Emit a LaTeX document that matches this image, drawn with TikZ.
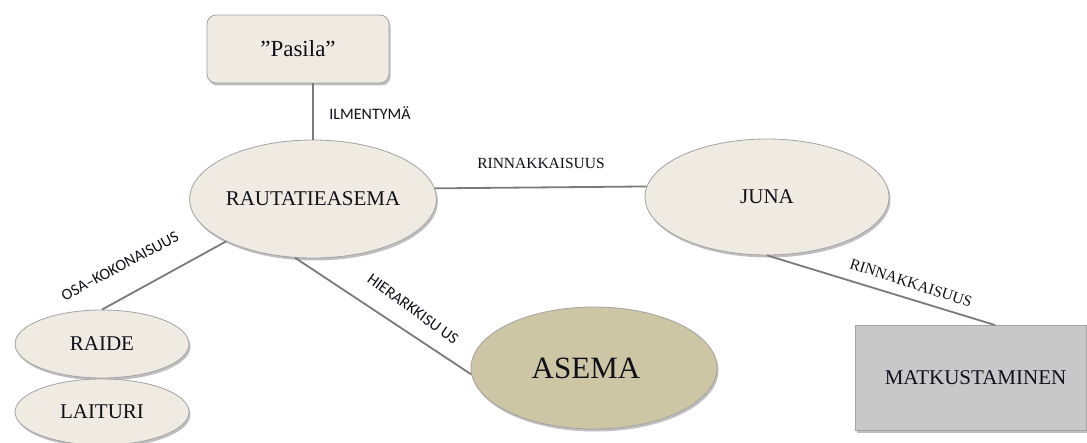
\documentclass[tikz,border=0pt]{standalone}
\usepackage{fontspec}
\setmainfont{Liberation Serif}
\newfontfamily\lblfont{Carlito}
\usetikzlibrary{shapes.geometric,shadows}
\definecolor{cream}{HTML}{EFEBE3}
\definecolor{khaki}{HTML}{CDC6A5}
\definecolor{greybox}{HTML}{C8C8C8}
\definecolor{edgegray}{HTML}{7A7A7A}
\definecolor{bordergray}{HTML}{A3A3A3}
\definecolor{inkc}{HTML}{101018}
\tikzset{
  shade/.style={drop shadow={shadow xshift=1.5pt,shadow yshift=-2.5pt,opacity=0.25,fill=black}},
  oval/.style={ellipse,draw=bordergray,line width=0.8pt,fill=cream,inner sep=0pt,text=inkc,font=\fontsize{21}{25}\selectfont,shade},
  boxnode/.style={rectangle,draw=bordergray,line width=0.8pt,inner sep=0pt,text=inkc,font=\fontsize{21}{25}\selectfont,shade},
  link/.style={draw=edgegray,line width=1.8pt},
  slabel/.style={inner sep=0pt,text=inkc,font=\lblfont\fontsize{16}{19}\selectfont},
  rlabel/.style={inner sep=0pt,text=inkc,font=\fontsize{15.5}{18}\selectfont}
}
\begin{document}
\begin{tikzpicture}[x=1pt,y=-1pt]
\useasboundingbox (0,0) rectangle (1087,443);
\fill[white] (0,0) rectangle (1087,443);
% nodes
\node[boxnode,fill=cream,rounded corners=9pt,minimum width=182pt,minimum height=68pt,font=\fontsize{23}{27}\selectfont] (pasila) at (298,49) {”Pasila”};
\node[oval,minimum width=246pt,minimum height=118pt] (rauta) at (313,199) {RAUTATIEASEMA};
\node[oval,minimum width=244pt,minimum height=116pt] (juna) at (767,197) {JUNA};
\node[oval,minimum width=174pt,minimum height=68pt] (raide) at (102,344) {RAIDE};
\node[oval,minimum width=174pt,minimum height=66pt] (laituri) at (102,412) {LAITURI};
\node[oval,fill=khaki,minimum width=246pt,minimum height=122pt,font=\fontsize{31}{36}\selectfont] (asema) at (594,368) {\hspace*{-16pt}ASEMA};
\node[boxnode,fill=greybox,minimum width=231pt,minimum height=105pt] (matk) at (970.5,378) {\hspace*{10pt}MATKUSTAMINEN};
% connectors
\draw[link] (rauta.north |- pasila.south) -- (rauta.north);
\draw[link] (rauta.5) -- (juna.175);
\draw[link] (raide.north) -- (rauta.206);
\draw[link] (rauta.253) -- (asema.183);
\draw[link] (juna.south) -- (matk.65);
% labels
\node[slabel] (l1) at (370,113) {ILMENTYMÄ};
\node[rlabel] (l2) at (541,163) {RINNAKKAISUUS};
\node[slabel,rotate=28] (l3) at (120,266) {OSA–KOKONAISUUS};
\node[slabel,rotate=-36] (l4) at (413,309) {HIERARKKISU US};
\node[rlabel,rotate=-18] (l5) at (911,283) {RINNAKKAISUUS};
\end{tikzpicture}
\end{document}
